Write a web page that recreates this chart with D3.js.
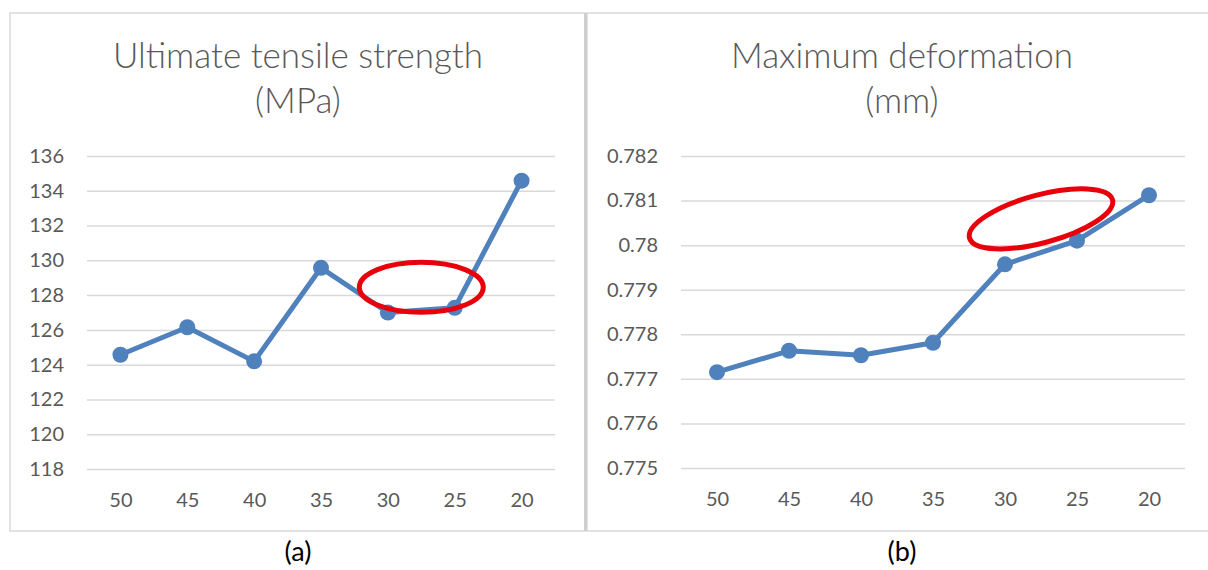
<!DOCTYPE html>
<meta charset="utf-8">
<style>
	body { margin: 0; background: #fff; }
	text { font-family: Lato, "Noto Sans", sans-serif; }
</style>
<svg width="1208" height="570"></svg>
<script src="https://d3js.org/d3.v7.min.js"></script>
<script>

	// Data.
	var categories = ["50", "45", "40", "35", "30", "25", "20"];
	var utsValues = [124.57, 126.15, 124.19, 129.57, 127.0, 127.27, 134.58];
	var defValues = [0.77715, 0.77763, 0.77753, 0.77781, 0.77957, 0.78010, 0.78112];
	var utsTicks = [118, 120, 122, 124, 126, 128, 130, 132, 134, 136];
	var defTicks = [0.775, 0.776, 0.777, 0.778, 0.779, 0.780, 0.781, 0.782];
	var utsTitle = ["Ultimate tensile strength", "(MPa)"];
	var defTitle = ["Maximum deformation", "(mm)"];
	// Highlighted region: between two categories, at a value.
	var utsMark = ["30", "25", 128.45];
	var defMark = ["30", "25", 0.78059];

	var svg = d3.select("svg"),
		blue = "#4f81bd",
		grid = "#d9d9d9",
		grey = "#595959";

	// Draws one panel.
	function panel(o) {
		var g = svg.append("g");

		// frame
		g.append("rect")
			.attr("x", o.box[0]).attr("y", o.box[1])
			.attr("width", o.box[2] - o.box[0]).attr("height", o.box[3] - o.box[1])
			.style("fill", "none").style("stroke", grid).style("stroke-width", 1.5);

		// title
		g.append("text")
			.attr("x", o.cx).attr("y", 68)
			.attr("text-anchor", "middle")
			.style("font-size", "35px").style("font-weight", 300).style("fill", grey)
			.selectAll("tspan").data(o.title).enter().append("tspan")
				.attr("x", o.cx)
				.attr("dy", function(d, i) { return i ? 45 : 0; })
				.text(function(d) { return d; });

		var x = d3.scalePoint().domain(categories).range([o.left, o.right]).padding(0.5);
		var y = d3.scaleLinear().domain(o.domain).range([o.bottom, o.top]);

		// y axis with gridlines
		var ya = g.append("g")
			.attr("transform", "translate(" + o.left + ",0)")
			.call(d3.axisLeft(y).tickValues(o.ticks).tickSize(-(o.right - o.left)).tickPadding(23).tickFormat(o.fmt));
		ya.select(".domain").remove();
		ya.selectAll("line").style("stroke", grid).style("stroke-width", 1.5);
		ya.selectAll("text").style("font-size", "20px").style("fill", grey).style("font-family", null);

		// x axis labels
		var xa = g.append("g")
			.attr("transform", "translate(0," + o.bottom + ")")
			.call(d3.axisBottom(x).tickSize(0).tickPadding(24));
		xa.select(".domain").remove();
		xa.selectAll("text").style("font-size", "20px").style("fill", grey).style("font-family", null);

		// line and markers
		var pts = categories.map(function(c, i) { return [c, o.values[i]]; });
		g.append("path")
			.datum(pts)
			.attr("d", d3.line().x(function(d) { return x(d[0]); }).y(function(d) { return y(d[1]); }))
			.style("fill", "none").style("stroke", blue)
			.style("stroke-width", 5).style("stroke-linejoin", "round");
		g.selectAll(".dot").data(pts).enter().append("circle")
			.attr("class", "dot")
			.attr("cx", function(d) { return x(d[0]); })
			.attr("cy", function(d) { return y(d[1]); })
			.attr("r", 8)
			.style("fill", blue);

		// red ellipse highlight
		var mx = (x(o.mark[0]) + x(o.mark[1])) / 2,
			my = y(o.mark[2]);
		g.append("ellipse")
			.attr("transform", "translate(" + mx + "," + my + ") rotate(" + o.rot + ")")
			.attr("rx", o.rx).attr("ry", o.ry)
			.style("fill", "none").style("stroke", "#e8000b").style("stroke-width", 5);

		// caption
		svg.append("text")
			.attr("x", o.cx).attr("y", 561)
			.attr("text-anchor", "middle")
			.style("font-size", "27px").style("fill", "#000")
			.text(o.caption);
	}

	panel({
		box: [10, 13, 585, 531], cx: 298,
		left: 87, right: 555, top: 156, bottom: 469,
		domain: [118, 136], ticks: utsTicks, fmt: d3.format("d"),
		values: utsValues, title: utsTitle, mark: utsMark,
		rx: 62, ry: 25, rot: 0, caption: "(a)"
	});

	panel({
		box: [587, 13, 1215, 531], cx: 902,
		left: 681, right: 1185, top: 156, bottom: 468,
		domain: [0.775, 0.782], ticks: defTicks, fmt: function(d) { return d3.format("")(+d.toFixed(3)); },
		values: defValues, title: defTitle, mark: defMark,
		rx: 74, ry: 24, rot: -15, caption: "(b)"
	});

	// Separator between the two panels.
	svg.append("line")
		.attr("x1", 585.5).attr("x2", 585.5).attr("y1", 13).attr("y2", 531)
		.style("stroke", "#cfcfcf").style("stroke-width", 3);

</script>
